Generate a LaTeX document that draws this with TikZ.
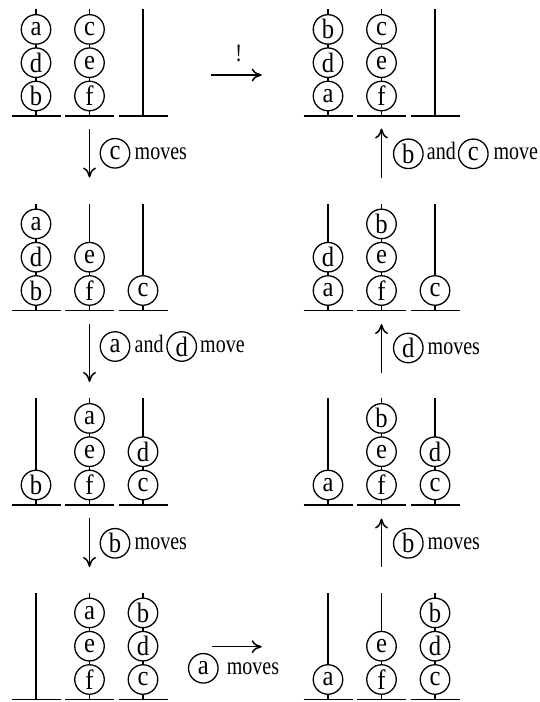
\documentclass[tikz,border=0pt]{standalone}
\usepackage{fontspec}
\setmainfont{Liberation Serif}[FakeStretch=0.8]
\newfontfamily\discfont{Liberation Serif}[FakeStretch=0.88]
\usetikzlibrary{arrows.meta}
\newcommand\hpeg[3]{% name, x, base y
  \coordinate (#1b) at (#2,#3);
  \coordinate (#1t) at (#2,#3-107);
  \coordinate (#1l) at (#2-24.5,#3);
  \coordinate (#1r) at (#2+24.5,#3);
  \draw[basel] (#1l) -- (#1r);
  \draw[pegl] (#1b) -- (#1t);
}
\newcommand\hdiscs[4]{% name, x, base y, letters bottom to top
  \foreach \L [count=\i] in {#4} {\node[disc] (#1-\i) at ({#2},{#3-20-33.3*\i+33.3}) {\L};}
}
\begin{document}
\begin{tikzpicture}[x=1pt,y=-1pt,
  pegl/.style={line width=1.5pt},
  basel/.style={line width=1.8pt},
  disc/.style={circle,draw,fill=white,line width=1.3pt,minimum size=29.5pt,inner sep=0pt,font=\discfont\fontsize{28}{28}\selectfont},
  lbl/.style={font=\fontsize{25}{25}\selectfont,inner sep=0pt,anchor=base west},
  mv/.style={line width=1.5pt,-{Computer Modern Rightarrow[length=10pt,width=13pt]}}
]
\useasboundingbox (0,0) rectangle (539,702);
% ---------- left column ----------
% L1
\hpeg{La1}{36}{116}\hpeg{La2}{89.5}{116}\hpeg{La3}{143}{116}
\hdiscs{La1}{36}{116}{b,d,a}\hdiscs{La2}{89.5}{116}{f,e,c}
% L2
\hpeg{Lb1}{36}{310.5}\hpeg{Lb2}{89.5}{310.5}\hpeg{Lb3}{143}{310.5}
\hdiscs{Lb1}{36}{310.5}{b,d,a}\hdiscs{Lb2}{89.5}{310.5}{f,e}\hdiscs{Lb3}{143}{310.5}{c}
% L3
\hpeg{Lc1}{36}{505}\hpeg{Lc2}{89.5}{505}\hpeg{Lc3}{143}{505}
\hdiscs{Lc1}{36}{505}{b}\hdiscs{Lc2}{89.5}{505}{f,e,a}\hdiscs{Lc3}{143}{505}{c,d}
% L4
\hpeg{Ld1}{36}{699.5}\hpeg{Ld2}{89.5}{699.5}\hpeg{Ld3}{143}{699.5}
\hdiscs{Ld2}{89.5}{699.5}{f,e,a}\hdiscs{Ld3}{143}{699.5}{c,d,b}
% ---------- right column ----------
% R1
\hpeg{Ra1}{328}{116}\hpeg{Ra2}{381.5}{116}\hpeg{Ra3}{435}{116}
\hdiscs{Ra1}{328}{116}{a,d,b}\hdiscs{Ra2}{381.5}{116}{f,e,c}
% R2
\hpeg{Rb1}{328}{310.5}\hpeg{Rb2}{381.5}{310.5}\hpeg{Rb3}{435}{310.5}
\hdiscs{Rb1}{328}{310.5}{a,d}\hdiscs{Rb2}{381.5}{310.5}{f,e,b}\hdiscs{Rb3}{435}{310.5}{c}
% R3
\hpeg{Rc1}{328}{505}\hpeg{Rc2}{381.5}{505}\hpeg{Rc3}{435}{505}
\hdiscs{Rc1}{328}{505}{a}\hdiscs{Rc2}{381.5}{505}{f,e,b}\hdiscs{Rc3}{435}{505}{c,d}
% R4
\hpeg{Rd1}{328}{699.5}\hpeg{Rd2}{381.5}{699.5}\hpeg{Rd3}{435}{699.5}
\hdiscs{Rd1}{328}{699.5}{a}\hdiscs{Rd2}{381.5}{699.5}{f,e}\hdiscs{Rd3}{435}{699.5}{c,d,b}
% ---------- arrows ----------
% top horizontal
\coordinate (h1s) at (210.7,75); \coordinate (h1e) at (261.7,75);
\draw[mv] (h1s) -- (h1e);
\node[lbl,anchor=base] (bang) at (238.7,61) {!};
% bottom horizontal
\coordinate (h2s) at (211.7,646.7); \coordinate (h2e) at (261.7,646.7);
\draw[mv] (h2s) -- (h2e);
\node[disc] (m4a) at (203.3,668.3) {a};
\node[lbl] (m4t) at (226.7,674.3) {moves};
% left down arrows
\coordinate (d1s) at (89.5,129); \coordinate (d1e) at (89.5,177.5);
\draw[mv] (d1s) -- (d1e);
\node[disc] (m1c) at (115,153.3) {c};
\node[lbl] (m1t) at (134.5,159.3) {moves};
\coordinate (d2s) at (89.5,323.5); \coordinate (d2e) at (89.5,382);
\draw[mv] (d2s) -- (d2e);
\node[disc] (m2a) at (115,346.5) {a};
\node[lbl] (m2t) at (134.5,352.5) {and};
\node[disc] (m2d) at (181.7,346.5) {d};
\node[lbl] (m2u) at (200,352.5) {move};
\coordinate (d3s) at (89.5,518); \coordinate (d3e) at (89.5,567);
\draw[mv] (d3s) -- (d3e);
\node[disc] (m3b) at (115,543.3) {b};
\node[lbl] (m3t) at (134.5,549.3) {moves};
% right up arrows
\coordinate (u3s) at (381.5,567); \coordinate (u3e) at (381.5,518.5);
\draw[mv] (u3s) -- (u3e);
\node[disc] (m5b) at (408.3,543.3) {b};
\node[lbl] (m5t) at (427.5,549.3) {moves};
\coordinate (u2s) at (381.5,372.5); \coordinate (u2e) at (381.5,324);
\draw[mv] (u2s) -- (u2e);
\node[disc] (m6d) at (408.3,348) {d};
\node[lbl] (m6t) at (427.5,354) {moves};
\coordinate (u1s) at (381.5,177.5); \coordinate (u1e) at (381.5,128.5);
\draw[mv] (u1s) -- (u1e);
\node[disc] (m7b) at (408.3,153.8) {b};
\node[lbl] (m7t) at (426.7,159.8) {and};
\node[disc] (m7c) at (473.3,153.8) {c};
\node[lbl] (m7u) at (493.3,159.8) {move};
\end{tikzpicture}
\end{document}
